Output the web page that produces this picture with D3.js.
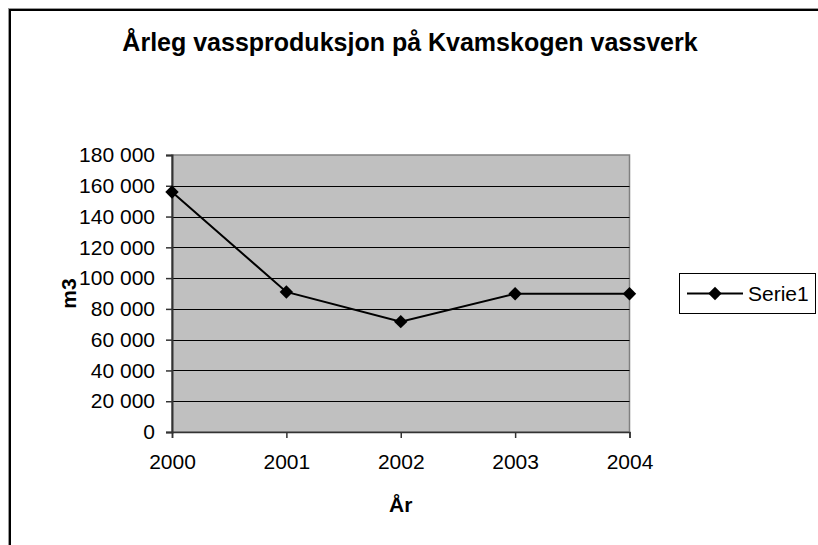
<!DOCTYPE html>
<html>
<head>
<meta charset="utf-8">
<script src="https://cdn.jsdelivr.net/npm/d3@7"></script>
<style>
  body { margin: 0; background: #fff; }
  text { font-family: "Liberation Sans", Arial, sans-serif; fill: #000; }
</style>
</head>
<body>
<script>
// Chart data
let years = ["2000", "2001", "2002", "2003", "2004"];
let production = [156000, 91000, 71700, 89800, 89800];
let yTicks = [0, 20000, 40000, 60000, 80000, 100000, 120000, 140000, 160000, 180000];
let seriesName = "Serie1";

let width = 818;
let height = 545;

// plot area edges
let plot = { left: 172, right: 629.5, top: 155, bottom: 432 };

let svg = d3.select("body")
  .append("svg")
  .attr("width", width)
  .attr("height", height);

// chart border (runs off the picture at right and bottom)
svg.append("rect")
  .attr("x", 8.5).attr("y", 8.5)
  .attr("width", 900).attr("height", 700)
  .attr("fill", "none")
  .attr("stroke", "#999")
  .attr("stroke-width", 1);
svg.append("rect")
  .attr("x", 10).attr("y", 10)
  .attr("width", 900).attr("height", 700)
  .attr("fill", "none")
  .attr("stroke", "#000")
  .attr("stroke-width", 2);

// number format with space as thousands separator
let nb = d3.formatLocale({ decimal: ",", thousands: " ", grouping: [3], currency: ["", " kr"] });
let fmt = nb.format(",");

let x = d3.scalePoint()
  .domain(years)
  .range([plot.left, plot.right]);

let y = d3.scaleLinear()
  .domain([0, 180000])
  .range([plot.bottom, plot.top]);

// gray plot background
svg.append("rect")
  .attr("x", plot.left).attr("y", plot.top)
  .attr("width", plot.right - plot.left)
  .attr("height", plot.bottom - plot.top)
  .attr("fill", "#c0c0c0")
  .attr("stroke", "#808080")
  .attr("stroke-width", 1.5);

// horizontal gridlines
svg.selectAll(".grid")
  .data(yTicks.filter(d => d > 0 && d < 180000))
  .enter()
  .append("line")
  .classed("grid", true)
  .attr("x1", plot.left).attr("x2", plot.right)
  .attr("y1", d => Math.round(y(d)) + 0.5)
  .attr("y2", d => Math.round(y(d)) + 0.5)
  .attr("stroke", "#000")
  .attr("stroke-width", 1);

// y axis
let yAxis = svg.append("g")
  .attr("transform", `translate(${plot.left}, 0)`)
  .call(d3.axisLeft(y).tickValues(yTicks).tickFormat(fmt).tickSize(6).tickPadding(11));
yAxis.select(".domain").attr("stroke", "#333").attr("stroke-width", 2);
yAxis.selectAll(".tick line").attr("stroke", "#333").attr("stroke-width", 1.5);
yAxis.selectAll("text").style("font-size", "21px").attr("fill", "#000");

// x axis
let xAxis = svg.append("g")
  .attr("transform", `translate(0, ${plot.bottom})`)
  .call(d3.axisBottom(x).tickSize(6).tickPadding(16));
xAxis.select(".domain").attr("stroke", "#333").attr("stroke-width", 1.5);
xAxis.selectAll(".tick line").attr("stroke", "#333").attr("stroke-width", 1.5);
xAxis.selectAll("text").style("font-size", "21px").attr("fill", "#000");

// the series line
let line = d3.line()
  .x((d, i) => x(years[i]))
  .y(d => y(d));

svg.append("path")
  .datum(production)
  .attr("d", line)
  .attr("fill", "none")
  .attr("stroke", "#000")
  .attr("stroke-width", 2);

let diamond = d3.symbol().type(d3.symbolSquare).size(90);

svg.selectAll(".marker")
  .data(production)
  .enter()
  .append("path")
  .classed("marker", true)
  .attr("d", diamond)
  .attr("transform", (d, i) => `translate(${x(years[i])}, ${y(d)}) rotate(45)`)
  .attr("fill", "#000");

// title
svg.append("text")
  .attr("x", 410)
  .attr("y", 51)
  .style("text-anchor", "middle")
  .style("font-size", "25px")
  .style("font-weight", "bold")
  .text("Årleg vassproduksjon på Kvamskogen vassverk");

// axis titles
svg.append("text")
  .attr("transform", `translate(76, ${(plot.top + plot.bottom) / 2}) rotate(-90)`)
  .style("text-anchor", "middle")
  .style("font-size", "21px")
  .style("font-weight", "bold")
  .text("m3");

svg.append("text")
  .attr("x", (plot.left + plot.right) / 2)
  .attr("y", 512)
  .style("text-anchor", "middle")
  .style("font-size", "21px")
  .style("font-weight", "bold")
  .text("År");

// legend
let legend = svg.append("g");
legend.append("rect")
  .attr("x", 679.5).attr("y", 273.5)
  .attr("width", 136).attr("height", 40)
  .attr("fill", "#fff")
  .attr("stroke", "#000")
  .attr("stroke-width", 1);
legend.append("line")
  .attr("x1", 687).attr("x2", 743)
  .attr("y1", 293.5).attr("y2", 293.5)
  .attr("stroke", "#000")
  .attr("stroke-width", 2);
legend.append("path")
  .attr("d", diamond)
  .attr("transform", "translate(715, 293.5) rotate(45)")
  .attr("fill", "#000");
legend.append("text")
  .attr("x", 748)
  .attr("y", 301)
  .style("font-size", "21px")
  .text(seriesName);
</script>
</body>
</html>
